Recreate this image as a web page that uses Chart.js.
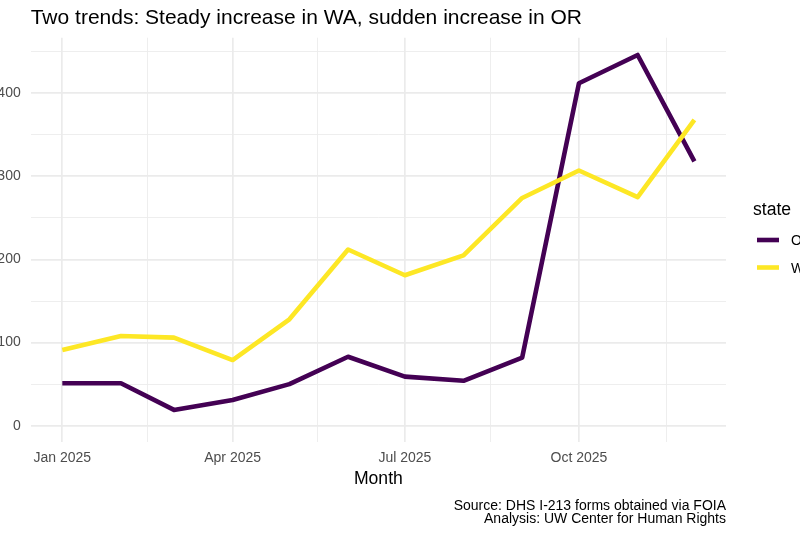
<!DOCTYPE html>
<html>
<head>
<meta charset="utf-8">
<script src="https://cdn.jsdelivr.net/npm/chart.js@4.4.1/dist/chart.umd.min.js"></script>
<style>
  html, body { margin: 0; padding: 0; background: #fff; }
  #wrap { width: 800px; height: 534px; position: relative; }
</style>
</head>
<body>
<div id="wrap"><canvas id="chartCanvas"></canvas></div>
<script>
// Monthly I-213 counts by state
const months = ["2025-01", "2025-02", "2025-03", "2025-04", "2025-05", "2025-06",
                "2025-07", "2025-08", "2025-09", "2025-10", "2025-11", "2025-12"];
const orValues = [51, 51, 19, 31, 50, 83, 59, 54, 82, 412, 446, 318];
const waValues = [91, 108, 106, 79, 128, 212, 181, 205, 274, 307, 275, 368];

const xTickDates = ["2025-01", "2025-04", "2025-07", "2025-10"];
const xTickLabels = ["Jan 2025", "Apr 2025", "Jul 2025", "Oct 2025"];
const xMinorDates = ["2025-02-15", "2025-05-16", "2025-08-15", "2025-11-16"];
const yTicks = [0, 100, 200, 300, 400];
const yMinorTicks = [50, 150, 250, 350, 450];

const stateNames = ["OR", "WA"];
const stateColors = ["#440154", "#FDE725"];

const FONT = "'Liberation Sans', Arial, Helvetica, sans-serif";

// days since 2025-01-01, so the x axis behaves like a date scale
function dayOf(s) {
  const p = s.split("-").map(Number);
  return (Date.UTC(p[0], p[1] - 1, p[2] || 1) - Date.UTC(2025, 0, 1)) / 86400000;
}

const xs = months.map(dayOf);
const xMajor = xTickDates.map(dayOf);
const xMinor = xMinorDates.map(dayOf);
const span = xs[xs.length - 1] - xs[0];

const isMajorX = v => xMajor.some(m => Math.abs(m - v) < 0.01);

const extras = {
  id: "extras",
  afterDraw(chart) {
    const c = chart.ctx;
    const a = chart.chartArea;
    c.save();
    c.fillStyle = "#000";
    c.textBaseline = "alphabetic";

    c.font = "21px " + FONT;
    c.textAlign = "left";
    c.fillText("Two trends: Steady increase in WA, sudden increase in OR", a.left, 24);

    c.font = "17.6px " + FONT;
    c.textAlign = "center";
    c.fillText("Month", (a.left + a.right) / 2, 484);

    c.font = "14px " + FONT;
    c.textAlign = "right";
    c.fillText("Source: DHS I-213 forms obtained via FOIA", a.right, 510);
    c.fillText("Analysis: UW Center for Human Rights", a.right, 523);

    // legend
    c.textAlign = "left";
    c.font = "17.6px " + FONT;
    c.fillText("state", 753, 215);
    c.font = "14px " + FONT;
    stateNames.forEach((name, i) => {
      const y = 240 + i * 27.5;
      c.strokeStyle = stateColors[i];
      c.lineWidth = 4.6;
      c.lineCap = "butt";
      c.beginPath();
      c.moveTo(757, y);
      c.lineTo(779, y);
      c.stroke();
      c.fillStyle = "#000";
      c.fillText(name, 791, y + 5);
    });
    c.restore();
  }
};

const ctx = document.getElementById("chartCanvas").getContext("2d");
new Chart(ctx, {
  type: "line",
  data: {
    datasets: [
      {
        label: stateNames[0],
        data: xs.map((x, i) => ({ x, y: orValues[i] })),
        borderColor: stateColors[0],
        order: 1
      },
      {
        label: stateNames[1],
        data: xs.map((x, i) => ({ x, y: waValues[i] })),
        borderColor: stateColors[1],
        order: 0
      }
    ]
  },
  options: {
    responsive: true,
    maintainAspectRatio: false,
    animation: false,
    layout: { padding: { top: 37.7, right: 74, left: 0, bottom: 0 } },
    elements: {
      line: { borderWidth: 4.6, tension: 0, borderJoinStyle: "round", borderCapStyle: "butt", fill: false },
      point: { radius: 0, hoverRadius: 0 }
    },
    plugins: {
      legend: { display: false },
      tooltip: { enabled: false },
      title: { display: false }
    },
    scales: {
      x: {
        type: "linear",
        min: xs[0] - span * 0.05,
        max: xs[xs.length - 1] + span * 0.05,
        afterBuildTicks(scale) {
          scale.ticks = xMajor.concat(xMinor).sort((a, b) => a - b).map(v => ({ value: v }));
        },
        afterFit(scale) { scale.height = 92; },
        border: { display: false },
        grid: {
          drawTicks: false,
          color: "#ebebeb",
          lineWidth: c => (c.tick && isMajorX(c.tick.value) ? 1.7 : 0.85)
        },
        ticks: {
          autoSkip: false,
          maxRotation: 0,
          padding: 8,
          color: "#4d4d4d",
          font: { family: FONT, size: 14 },
          callback: v => {
            const i = xMajor.findIndex(m => Math.abs(m - v) < 0.01);
            return i >= 0 ? xTickLabels[i] : "";
          }
        }
      },
      y: {
        min: -19.6,
        max: 466.8,
        afterBuildTicks(scale) {
          scale.ticks = yTicks.concat(yMinorTicks).sort((a, b) => a - b).map(v => ({ value: v }));
        },
        afterFit(scale) { scale.width = 30.7; },
        border: { display: false },
        grid: {
          drawTicks: false,
          color: "#ebebeb",
          lineWidth: c => (c.tick && yTicks.includes(c.tick.value) ? 1.7 : 0.85)
        },
        ticks: {
          autoSkip: false,
          padding: 10,
          color: "#4d4d4d",
          font: { family: FONT, size: 14 },
          callback: v => (yTicks.includes(v) ? String(v) : "")
        }
      }
    }
  },
  plugins: [extras]
});
</script>
</body>
</html>
